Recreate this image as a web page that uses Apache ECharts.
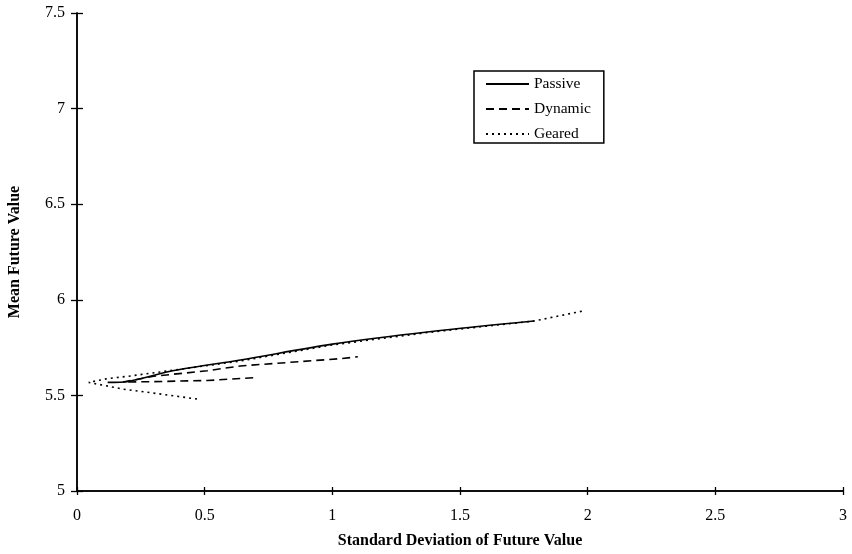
<!DOCTYPE html>
<html><head><meta charset="utf-8">
<script src="https://cdn.jsdelivr.net/npm/echarts@6/dist/echarts.min.js"></script>
<style>html,body{margin:0;padding:0;background:#fff}#c{width:852px;height:554px}</style>
</head><body><div id="c"></div>
<script>
const seriesNames = ['Passive', 'Dynamic', 'Geared'];
const passive = [[0.12,5.568],[0.2,5.573],[0.38,5.63],[0.64,5.685],[1.0,5.768],[1.38,5.833],[1.79,5.889]];
const dynamic = [[0.69,5.592],[0.51,5.578],[0.3,5.572],[0.18,5.570],[0.3,5.600],[0.51,5.629],[0.64,5.654],[1.03,5.692],[1.1,5.702]];
const geared = [[0.47,5.481],[0.3,5.512],[0.18,5.533],[0.046,5.568],[0.12,5.588],[0.2,5.600],[0.4,5.636],[0.64,5.680],[1.0,5.764],[1.38,5.830],[1.79,5.889],[1.98,5.941]];
const xTicks = [0, 0.5, 1, 1.5, 2, 2.5, 3];
const yTicks = [5, 5.5, 6, 6.5, 7, 7.5];

const font = 'Liberation Serif';
const chart = echarts.init(document.getElementById('c'));
const baseX = {
  type: 'value', min: 0, max: 3, interval: 0.5, position: 'bottom',
  axisLine: {lineStyle: {color: '#000', width: 1.5}},
  splitLine: {show: false}
};
const baseY = {
  type: 'value', min: 5, max: 7.5, interval: 0.5, position: 'left',
  axisLine: {lineStyle: {color: '#000', width: 1.5}},
  splitLine: {show: false}
};
chart.setOption({
  animation: false,
  backgroundColor: '#fff',
  grid: {left: 77, right: 9, top: 13, bottom: 63, containLabel: false, outerBoundsMode: 'none'},
  legend: {
    data: seriesNames, orient: 'vertical', left: 474, top: 71,
    padding: [5, 13, 1, 11], itemGap: 9, itemWidth: 43, itemHeight: 16,
    borderColor: '#000', borderWidth: 1.5,
    itemStyle: {opacity: 0},
    textStyle: {fontFamily: font, fontSize: 15.5, color: '#000'}
  },
  xAxis: [
    Object.assign({}, baseX, {
      name: 'Standard Deviation of Future Value', nameLocation: 'middle', nameGap: 42,
      nameTextStyle: {fontFamily: font, fontSize: 16, fontWeight: 'bold', color: '#000'},
      axisTick: {show: true, length: 4, lineStyle: {color: '#000', width: 1.3}},
      axisLabel: {fontFamily: font, fontSize: 16, color: '#000', margin: 17,
        formatter: v => xTicks.indexOf(v) >= 0 ? String(v) : ''}
    }),
    Object.assign({}, baseX, {
      axisTick: {show: true, inside: true, length: 4, lineStyle: {color: '#000', width: 1.3}},
      axisLabel: {show: false}
    })
  ],
  yAxis: [
    Object.assign({}, baseY, {
      name: 'Mean Future Value', nameLocation: 'middle', nameGap: 54,
      nameTextStyle: {fontFamily: font, fontSize: 16, fontWeight: 'bold', color: '#000'},
      axisTick: {show: true, length: 6, lineStyle: {color: '#000', width: 1.3}},
      axisLabel: {fontFamily: font, fontSize: 16, color: '#000', margin: 12,
        formatter: v => yTicks.indexOf(v) >= 0 ? String(v) : ''}
    }),
    Object.assign({}, baseY, {
      axisTick: {show: true, inside: true, length: 6, lineStyle: {color: '#000', width: 1.3}},
      axisLabel: {show: false}
    })
  ],
  series: [
    {name: 'Passive', type: 'line', data: passive, symbol: 'none', smooth: 0.3,
     lineStyle: {color: '#000', width: 1.6, type: 'solid'}, itemStyle: {color: '#000'}},
    {name: 'Dynamic', type: 'line', data: dynamic, symbol: 'none',
     lineStyle: {color: '#000', width: 1.6, type: [8, 5]}, itemStyle: {color: '#000'}},
    {name: 'Geared', type: 'line', data: geared, symbol: 'none',
     lineStyle: {color: '#000', width: 1.6, type: [2, 4]}, itemStyle: {color: '#000'}}
  ]
});
</script></body></html>
